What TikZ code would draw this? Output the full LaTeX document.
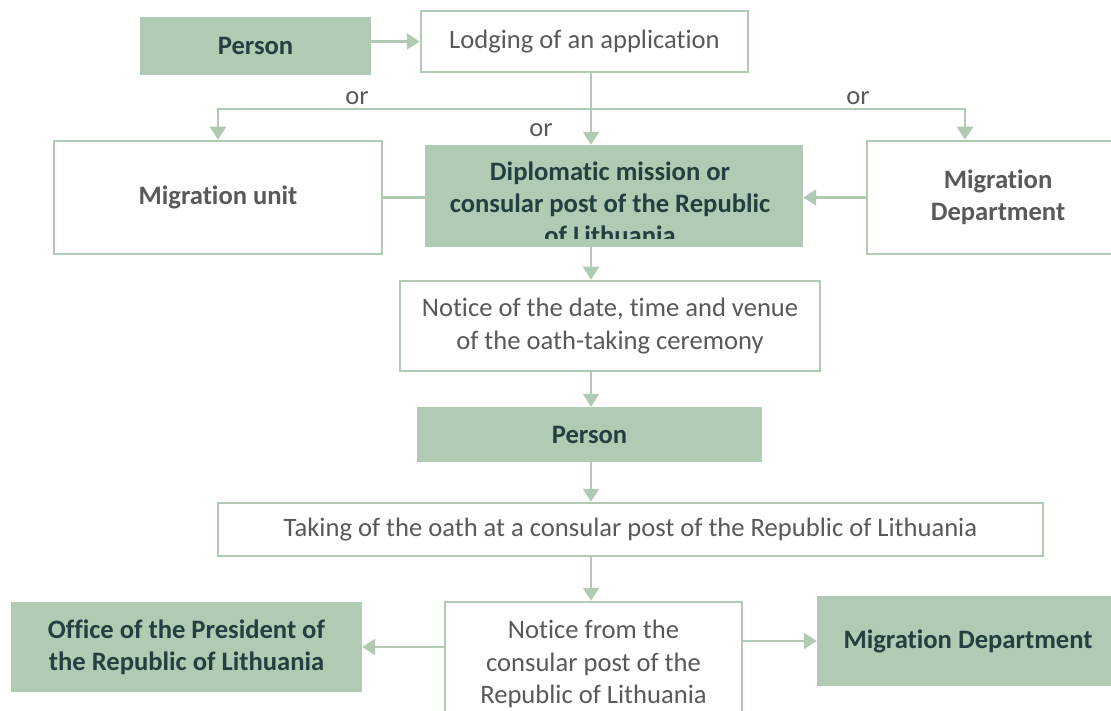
\documentclass[tikz,border=0pt]{standalone}
\usepackage{fontspec}
\setmainfont{Carlito}[Ligatures=NoCommon]
\usetikzlibrary{arrows.meta}
\definecolor{salvia}{HTML}{B1CAB4}
\definecolor{pizarra}{HTML}{243F40}
\definecolor{grisx}{HTML}{595959}

\begin{document}
\begin{tikzpicture}[x=1pt,y=-1pt, lbox/.style={draw=salvia,line width=2.5pt,fill=white,align=center,text=grisx,inner sep=0pt,font=\fontsize{26.6}{32.5}\selectfont}, gbox/.style={fill=salvia,align=center,text=pizarra,inner sep=0pt,font=\bfseries\fontsize{26.6}{32}\selectfont}, boldgris/.style={font=\bfseries\fontsize{26.6}{32}\selectfont}, arr/.style={-{Triangle[length=13pt,width=16pt]},line width=2.5pt,color=salvia}, lin/.style={line width=2.5pt,color=salvia}, ortxt/.style={text=grisx,font=\fontsize{26.6}{30}\selectfont}]
\useasboundingbox (0,0) rectangle (1111,711);
\node[gbox,minimum width=231pt,minimum height=58pt] (person) at (255.5,46) {Person};
\node[lbox,minimum width=327pt,minimum height=61pt] (lodge) at (584.5,41.5) {Lodging of an application};
\node[lbox,boldgris,minimum width=328pt,minimum height=113pt] (migunit) at (218,197.5) {Migration unit};
\node[gbox,minimum width=378pt,minimum height=102pt] (diplo) at (614,196) {};
\begin{scope}
\clip (diplo.north west) rectangle ([yshift=9pt]diplo.south east);
\node[gbox,fill=none] (diplotext) at (610,203) {Diplomatic mission or\\consular post of the Republic\\of Lithuania};
\end{scope}
\node[lbox,boldgris,minimum width=262pt,minimum height=113pt] (migdep) at (998,197.5) {Migration\\Department};
\node[lbox,minimum width=420pt,minimum height=90pt] (notice) at (610,326) {Notice of the date, time and venue\\of the oath-taking ceremony};
\node[gbox,minimum width=345pt,minimum height=55pt] (person2) at (589.5,434.5) {Person};
\node[lbox,minimum width=825pt,minimum height=53pt] (taking) at (630.5,529.5) {Taking of the oath at a consular post of the Republic of Lithuania};
\node[lbox,minimum width=297pt,minimum height=124pt] (noticefrom) at (593.5,664) {Notice from the\\consular post of the\\Republic of Lithuania};
\node[gbox,minimum width=351pt,minimum height=90pt] (office) at (186.5,647) {Office of the President of\\the Republic of Lithuania};
\node[gbox,minimum width=302pt,minimum height=90pt] (migdep2) at (968,641) {Migration Department};
\node[ortxt] (or1) at (357,98) {or};
\node[ortxt] (or2) at (541,130) {or};
\node[ortxt] (or3) at (858,98) {or};
% column and split point
\coordinate (col) at (591,0);
\coordinate (split) at (591,109);
\draw[arr] (person.east |- lodge.west) -- (lodge.west);
\draw[lin] (lodge.south -| col) -- (split);
\draw[arr] (split) -- (diplo.north -| col);
\draw[arr] (split) -| (migunit.north);
\draw[arr] (split) -| ([xshift=-33pt]migdep.north);
\draw[lin] (migunit.east) -- (migunit.east -| diplo.west);
\draw[arr] (migdep.west) -- (migdep.west -| diplo.east);
\draw[arr] (diplo.south -| col) -- (notice.north -| col);
\draw[arr] (notice.south -| col) -- (person2.north -| col);
\draw[arr] (person2.south -| col) -- (taking.north -| col);
\draw[arr] (taking.south -| col) -- (noticefrom.north -| col);
\draw[arr] (noticefrom.west |- office.east) -- (office.east);
\draw[arr] (noticefrom.east |- migdep2.west) -- (migdep2.west);
\end{tikzpicture}
\end{document}
